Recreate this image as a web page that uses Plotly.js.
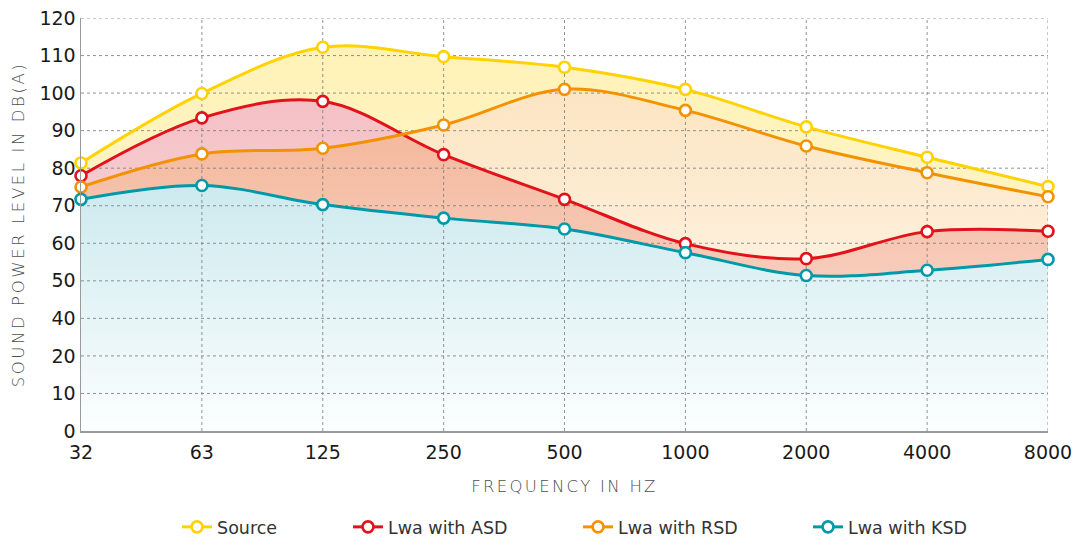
<!DOCTYPE html>
<html>
<head>
<meta charset="utf-8">
<script src="https://cdn.plot.ly/plotly-3.0.1.min.js"></script>
<style>html,body{margin:0;padding:0;background:#fff;}#chart{width:1076px;height:540px;}</style>
</head>
<body>
<div id="chart"></div>
<script>
// ---- data ----
const frequencies = ['32','63','125','250','500','1000','2000','4000','8000'];
const sourceLevels = [81.4, 99.9, 112.2, 109.7, 106.9, 101.0, 91.0, 82.9, 75.1];
const asdLevels    = [78.0, 93.4, 97.8, 83.6, 71.7, 59.9, 55.9, 63.1, 63.2];
const rsdLevels    = [75.0, 83.8, 85.3, 91.5, 101.0, 95.4, 85.9, 78.8, 72.4];
const ksdLevels    = [71.7, 75.4, 70.3, 66.7, 63.8, 57.5, 51.4, 52.8, 55.7];
const seriesNames  = ['Source', 'Lwa with ASD', 'Lwa with RSD', 'Lwa with KSD'];
const yTickValues  = [10, 20, 30, 40, 50, 60, 70, 80, 90, 100, 110, 120];
const yTickLabels  = ['0', '10', '20', '40', '50', '60', '70', '80', '90', '100', '110', '120'];

// ---- styles ----
const lineColors = ['#ffd200', '#e2121b', '#f39200', '#0099a8'];
const FONT = '"DejaVu Sans", Verdana, sans-serif';

function fillTrace(vals, scale, start, stop) {
  return {
    type: 'scatter', mode: 'lines', x: frequencies, y: vals,
    line: {width: 0, shape: 'spline', smoothing: 1},
    fill: 'tozeroy',
    fillgradient: {type: 'vertical', colorscale: scale, start: start, stop: stop},
    showlegend: false, hoverinfo: 'skip'
  };
}

const traces = [];
// layered fills: yellow source, white knock-out under RSD, pink ASD, translucent orange RSD, blue KSD
traces.push(fillTrace(sourceLevels, [[0, 'rgb(255,247,212)'], [1, 'rgb(255,242,184)']], 10, 112));
traces.push(fillTrace(rsdLevels,    [[0, 'rgb(255,255,255)'], [1, 'rgb(255,255,255)']], 10, 100));
traces.push(fillTrace(asdLevels,    [[0, 'rgb(251,232,231)'], [1, 'rgb(244,192,197)']], 10, 98));
traces.push(fillTrace(rsdLevels,    [[0, 'rgba(243,146,0,0.04)'], [1, 'rgba(243,146,0,0.24)']], 10, 100));
traces.push(fillTrace(ksdLevels,    [[0, 'rgb(252,254,254)'], [1, 'rgb(205,234,239)']], 10, 75));

// grid (drawn above fills, below lines)
const gridStyle = {color: 'rgba(120,120,120,0.8)', width: 1, dash: 'dot'};
yTickValues.slice(1).forEach(v => {
  traces.push({type: 'scatter', mode: 'lines', x: [frequencies[0], frequencies[frequencies.length - 1]], y: [v, v],
    line: gridStyle, showlegend: false, hoverinfo: 'skip'});
});
frequencies.slice(1).forEach(f => {
  traces.push({type: 'scatter', mode: 'lines', x: [f, f], y: [yTickValues[0], yTickValues[yTickValues.length - 1]],
    line: gridStyle, showlegend: false, hoverinfo: 'skip'});
});

// lines + markers
const legendIds = ['legend', 'legend2', 'legend3', 'legend4'];
[sourceLevels, asdLevels, rsdLevels, ksdLevels].forEach((vals, i) => {
  traces.push({
    type: 'scatter', mode: 'lines+markers', name: seriesNames[i], x: frequencies, y: vals,
    legend: legendIds[i],
    line: {color: lineColors[i], width: 3, shape: 'spline', smoothing: 1},
    marker: {symbol: 'circle', size: 11, color: '#ffffff', line: {color: lineColors[i], width: 2.6}},
    cliponaxis: false
  });
});

const legendX = [0.0993, 0.2761, 0.514, 0.7518];
function legendBox(i) {
  return {orientation: 'h', x: legendX[i], xanchor: 'left', y: -0.2760, yanchor: 'bottom',
          bgcolor: 'rgba(0,0,0,0)', borderwidth: 0,
          font: {family: FONT, size: 17.5, color: '#333'}};
}

const layout = {
  width: 1076, height: 540,
  margin: {l: 81, r: 28, t: 18, b: 109, autoexpand: false},
  paper_bgcolor: '#ffffff', plot_bgcolor: 'rgba(0,0,0,0)',
  font: {family: FONT, color: '#1a1a1a'},
  showlegend: true,
  legend: legendBox(0),
  legend2: legendBox(1),
  legend3: legendBox(2),
  legend4: legendBox(3),
  xaxis: {
    type: 'category', categoryorder: 'array', categoryarray: frequencies,
    range: [0, frequencies.length - 1], showgrid: false, zeroline: false,
    showline: true, linecolor: '#9a9a9a', linewidth: 1.5,
    ticks: '', ticklabelstandoff: 4, tickfont: {family: FONT, size: 19, color: '#1a1a1a'},
    title: {text: '<span style="letter-spacing:2.3px">FREQUENCY IN HZ</span>',
            font: {family: FONT, size: 16.5, color: '#4d4d4d', weight: 300}, standoff: 18}
  },
  yaxis: {
    range: [10, 120], tickvals: yTickValues, ticktext: yTickLabels,
    showgrid: false, zeroline: false, showline: true, linecolor: '#9a9a9a', linewidth: 1.5,
    ticks: '', tickfont: {family: FONT, size: 19, color: '#1a1a1a'},
    title: {text: '<span style="letter-spacing:2.6px">SOUND POWER LEVEL IN DB(A)</span>',
            font: {family: FONT, size: 16.5, color: '#4d4d4d', weight: 300}, standoff: 10}
  },
  hovermode: false
};

Plotly.newPlot('chart', traces, layout, {displayModeBar: false, staticPlot: true});
</script>
</body>
</html>
